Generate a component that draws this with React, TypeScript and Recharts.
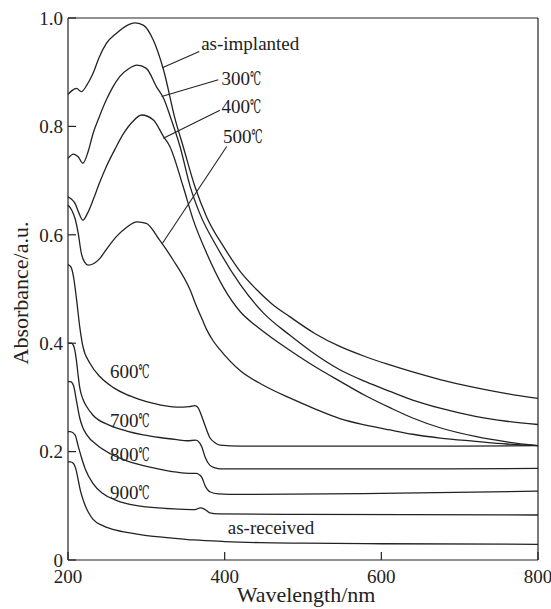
import { LineChart, Line, XAxis, YAxis, ReferenceLine, ReferenceDot } from 'recharts';

type Pt = [number, number];

// wavelength (nm), absorbance (a.u.)
const asImplanted: Pt[] = [
  [200, 0.859], [205, 0.866], [211, 0.87], [217, 0.864], [224, 0.876], [232, 0.898], [240, 0.928],
  [249, 0.953], [262, 0.972], [275, 0.986], [285, 0.991], [296, 0.987], [309, 0.959], [322, 0.904],
  [337, 0.812], [347, 0.763], [362, 0.689], [377, 0.633], [400, 0.575], [420, 0.532], [440, 0.5],
  [460, 0.473], [483, 0.449], [515, 0.418], [547, 0.394], [580, 0.375], [611, 0.36], [640, 0.347],
  [675, 0.333], [720, 0.318], [760, 0.307], [800, 0.298],
];
const t300: Pt[] = [
  [200, 0.741], [207, 0.749], [213, 0.744], [219, 0.732], [226, 0.755], [232, 0.787], [240, 0.818],
  [249, 0.849], [257, 0.872], [266, 0.892], [277, 0.906], [288, 0.913], [300, 0.907], [313, 0.873],
  [322, 0.852], [332, 0.812], [343, 0.763], [356, 0.689], [368, 0.64], [390, 0.578], [420, 0.508],
  [450, 0.455], [483, 0.415], [515, 0.38], [547, 0.351], [580, 0.329], [611, 0.311], [640, 0.295],
  [675, 0.28], [720, 0.265], [760, 0.256], [800, 0.25],
];
const t400: Pt[] = [
  [200, 0.67], [205, 0.665], [209, 0.658], [214, 0.64], [219, 0.627], [225, 0.64], [232, 0.664],
  [240, 0.695], [249, 0.726], [260, 0.758], [271, 0.787], [282, 0.808], [294, 0.821], [309, 0.812],
  [322, 0.781], [330, 0.763], [347, 0.689], [360, 0.627], [377, 0.566], [398, 0.504], [420, 0.458],
  [440, 0.432], [460, 0.41], [483, 0.387], [515, 0.357], [547, 0.33], [580, 0.303], [611, 0.281],
  [640, 0.262], [675, 0.244], [720, 0.228], [760, 0.218], [800, 0.211],
];
const t500: Pt[] = [
  [200, 0.655], [205, 0.645], [209, 0.63], [213, 0.603], [217, 0.566], [221, 0.55], [226, 0.544],
  [233, 0.547], [241, 0.557], [250, 0.575], [262, 0.597], [275, 0.614], [288, 0.624], [300, 0.621],
  [317, 0.59], [334, 0.554], [356, 0.498], [364, 0.468], [371, 0.445], [377, 0.425], [385, 0.405],
  [394, 0.388], [420, 0.349], [450, 0.322], [483, 0.299], [515, 0.279], [547, 0.261], [580, 0.249],
  [611, 0.24], [640, 0.232], [675, 0.225], [720, 0.219], [760, 0.214], [800, 0.211],
];
const t600: Pt[] = [
  [200, 0.545], [204, 0.54], [207, 0.523], [211, 0.48], [215, 0.43], [219, 0.394], [228, 0.363],
  [241, 0.338], [258, 0.318], [275, 0.305], [290, 0.297], [309, 0.289], [339, 0.282], [355, 0.283],
  [362, 0.285], [366, 0.281], [370, 0.268], [375, 0.248], [381, 0.226], [388, 0.216], [394, 0.212],
  [420, 0.21], [500, 0.21], [600, 0.21], [700, 0.21], [800, 0.211],
];
const t700: Pt[] = [
  [200, 0.4], [204, 0.4], [207, 0.396], [209, 0.385], [211, 0.365], [213, 0.34], [215, 0.318],
  [219, 0.297], [223, 0.285], [232, 0.267], [254, 0.248], [275, 0.238], [296, 0.231], [317, 0.226],
  [339, 0.222], [352, 0.22], [363, 0.221], [368, 0.216], [371, 0.208], [375, 0.19], [381, 0.175],
  [388, 0.17], [394, 0.168], [500, 0.168], [650, 0.168], [800, 0.169],
];
const t800: Pt[] = [
  [200, 0.329], [203, 0.329], [207, 0.322], [211, 0.292], [215, 0.262], [219, 0.244], [224, 0.231],
  [237, 0.212], [254, 0.196], [275, 0.183], [309, 0.17], [339, 0.162], [355, 0.16], [364, 0.16],
  [368, 0.157], [371, 0.152], [375, 0.137], [381, 0.126], [392, 0.122], [420, 0.121], [600, 0.123],
  [800, 0.127],
];
const t900: Pt[] = [
  [200, 0.237], [203, 0.237], [209, 0.231], [213, 0.21], [217, 0.19], [222, 0.168], [232, 0.141],
  [244, 0.123], [260, 0.111], [275, 0.104], [300, 0.098], [340, 0.094], [362, 0.093], [369, 0.096],
  [374, 0.094], [381, 0.087], [392, 0.085], [500, 0.084], [800, 0.083],
];
const asReceived: Pt[] = [
  [200, 0.181], [203, 0.181], [207, 0.178], [210, 0.168], [213, 0.148], [216, 0.127], [220, 0.108],
  [226, 0.088], [232, 0.075], [245, 0.063], [254, 0.058], [275, 0.051], [296, 0.046], [330, 0.041],
  [360, 0.037], [400, 0.034], [445, 0.032], [500, 0.031], [600, 0.03], [800, 0.029],
];

const seriesNames = ['as-implanted', '300℃', '400℃', '500℃', '600℃', '700℃', '800℃', '900℃', 'as-received'];
const seriesPoints = [asImplanted, t300, t400, t500, t600, t700, t800, t900, asReceived];

const xTicks = [200, 400, 600, 800];
const yTicks = [0, 0.2, 0.4, 0.6, 0.8, 1.0];

// curve labels: text, wavelength, absorbance (text baseline-left)
const curveLabels: [string, number, number][] = [
  ['as-implanted', 370, 0.941],
  ['300℃', 396, 0.876],
  ['400℃', 396, 0.824],
  ['500℃', 398, 0.769],
  ['600℃', 253.6, 0.335],
  ['700℃', 253.6, 0.246],
  ['800℃', 253.6, 0.183],
  ['900℃', 253.6, 0.112],
  ['as-received', 404, 0.048],
];

// leader lines from label to curve
const leaders: [Pt, Pt][] = [
  [[367.6, 0.938], [320.4, 0.908]],
  [[391.9, 0.886], [319.6, 0.855]],
  [[394, 0.83], [321.7, 0.778]],
  [[402.6, 0.763], [320.4, 0.584]],
];

const FONT = 'Liberation Serif, Tinos, Times New Roman, DejaVu Serif, serif';
const INK = '#222';

function CurveLabel({ cx, cy, text }: { cx: number; cy: number; text: string }) {
  const deg = text.endsWith('℃');
  const head = deg ? text.slice(0, -1) : text;
  return (
    <text x={cx} y={cy} fill={INK} fontSize={19} style={{ fontFamily: FONT }}>
      {head}
      {deg && (
        <tspan textLength={11} lengthAdjust="spacingAndGlyphs">
          ℃
        </tspan>
      )}
    </text>
  );
}

export default function App() {
  return (
    <div style={{ position: 'absolute', left: 0, top: 0, width: 551, height: 609, background: '#fff', fontFamily: FONT }}>
      <LineChart width={551} height={609} margin={{ top: 18, right: 13, left: 0, bottom: 0 }} style={{ fontFamily: FONT }}>
        <XAxis
          type="number"
          dataKey="x"
          domain={[200, 800]}
          ticks={xTicks}
          interval={0}
          height={49}
          tickSize={-8}
          tickMargin={18}
          stroke={INK}
          strokeWidth={1.2}
          tick={{ fill: INK, fontSize: 19, fontFamily: FONT }}
          label={() => (
            <text x={306} y={602} textAnchor="middle" fill={INK} fontSize={22} style={{ fontFamily: FONT }}>
              Wavelength/nm
            </text>
          )}
        />
        <YAxis
          type="number"
          domain={[0, 1]}
          ticks={yTicks}
          interval={0}
          width={68}
          tickSize={-8}
          tickMargin={13}
          stroke={INK}
          strokeWidth={1.2}
          tickFormatter={(v: number) => (v === 0 ? '0' : v.toFixed(1))}
          tick={{ fill: INK, fontSize: 19, fontFamily: FONT }}
          label={() => (
            <text
              transform="translate(28,293) rotate(-90)"
              textAnchor="middle"
              fill={INK}
              fontSize={22}
              style={{ fontFamily: FONT }}
            >
              Absorbance/a.u.
            </text>
          )}
        />
        <ReferenceLine y={1} stroke={INK} strokeWidth={1.2} />
        <ReferenceLine x={800} stroke={INK} strokeWidth={1.2} />
        {seriesPoints.map((pts, i) => (
          <Line
            key={seriesNames[i]}
            data={pts.map(([x, y]) => ({ x, y }))}
            dataKey="y"
            type="monotone"
            stroke={INK}
            strokeWidth={1.3}
            dot={false}
            activeDot={false}
            isAnimationActive={false}
          />
        ))}
        {leaders.map(([a, b], i) => (
          <ReferenceLine
            key={`leader-${i}`}
            segment={[{ x: a[0], y: a[1] }, { x: b[0], y: b[1] }]}
            stroke={INK}
            strokeWidth={1.1}
          />
        ))}
        {curveLabels.map(([text, x, y]) => (
          <ReferenceDot
            key={text}
            x={x}
            y={y}
            r={1}
            shape={(p: any) => <CurveLabel cx={p.cx} cy={p.cy} text={text} />}
          />
        ))}
      </LineChart>
    </div>
  );
}
